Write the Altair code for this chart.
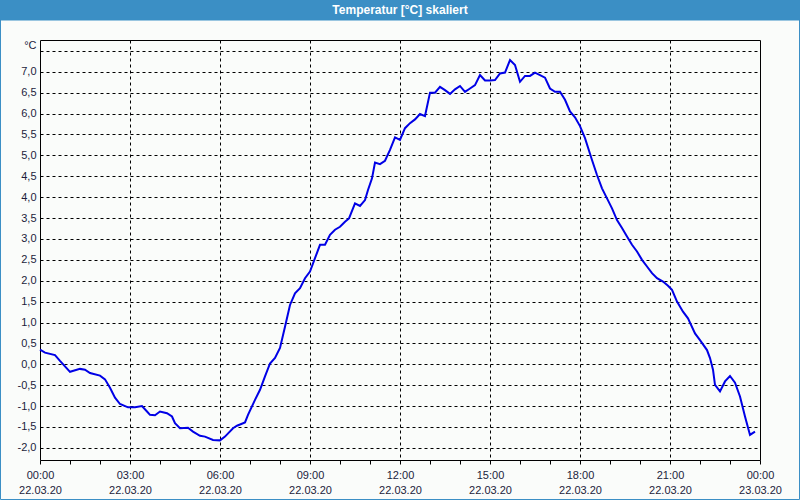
import altair as alt
import pandas as pd

# minutes since 22.03.20 00:00
minutes = [0, 10, 30, 40, 60, 80, 90, 100, 120, 130,
           140, 150, 160, 176, 190, 204, 214, 220, 230, 240,
           254, 264, 270, 280, 296, 306, 320, 330, 346, 360,
           370, 386, 394, 410, 416, 430, 440, 450, 460, 470,
           480, 490, 500, 510, 520, 530, 540, 550, 560, 570,
           580, 590, 600, 610, 618, 630, 640, 650, 656, 664,
           670, 680, 690, 700, 710, 720, 730, 740, 750, 760,
           770, 780, 790, 800, 810, 820, 830, 840, 850, 860,
           870, 880, 890, 900, 910, 920, 930, 940, 950, 960,
           970, 980, 990, 1000, 1010, 1020, 1030, 1040, 1050, 1060,
           1070, 1080, 1090, 1104, 1114, 1124, 1134, 1144, 1154, 1164,
           1174, 1184, 1194, 1204, 1214, 1224, 1234, 1246, 1256, 1264,
           1274, 1286, 1296, 1310, 1320, 1334, 1340, 1346, 1350, 1360,
           1370, 1380, 1390, 1400, 1410, 1420, 1430]
temps = [0.35, 0.28, 0.22, 0.08, -0.18, -0.11, -0.13, -0.21, -0.27, -0.36,
         -0.56, -0.80, -0.95, -1.03, -1.03, -1.00, -1.13, -1.21, -1.22, -1.13,
         -1.17, -1.25, -1.41, -1.53, -1.52, -1.61, -1.71, -1.73, -1.81, -1.82,
         -1.73, -1.53, -1.47, -1.39, -1.21, -0.85, -0.61, -0.29, 0.02, 0.15,
         0.39, 0.90, 1.42, 1.70, 1.82, 2.06, 2.22, 2.54, 2.86, 2.86,
         3.10, 3.22, 3.29, 3.41, 3.49, 3.85, 3.79, 3.93, 4.17, 4.45,
         4.83, 4.79, 4.87, 5.13, 5.43, 5.37, 5.65, 5.77, 5.86, 5.99,
         5.94, 6.50, 6.50, 6.64, 6.56, 6.47, 6.58, 6.66, 6.52, 6.60,
         6.68, 6.92, 6.79, 6.79, 6.80, 6.96, 6.98, 7.28, 7.16, 6.76,
         6.90, 6.90, 6.98, 6.92, 6.86, 6.60, 6.52, 6.52, 6.33, 6.05,
         5.91, 5.70, 5.41, 4.89, 4.53, 4.21, 3.97, 3.73, 3.45, 3.26,
         3.06, 2.86, 2.70, 2.50, 2.34, 2.18, 2.06, 1.98, 1.88, 1.78,
         1.50, 1.26, 1.10, 0.74, 0.58, 0.34, 0.15, -0.13, -0.49, -0.65,
         -0.41, -0.28, -0.44, -0.77, -1.25, -1.69, -1.61]

y_ticks = [-2.0, -1.5, -1.0, -0.5, 0.0, 0.5, 1.0, 1.5, 2.0, 2.5, 3.0, 3.5, 4.0,
           4.5, 5.0, 5.5, 6.0, 6.5, 7.0, 7.5]
x_ticks = list(range(0, 25))
title_text = "Temperatur [°C] skaliert"

df = pd.DataFrame({"h": [m / 60 for m in minutes], "t": temps})

FONT = "Liberation Sans"
LABEL_COLOR = "#1c1c3c"
BLUE = "#3b8fc5"

one = alt.Data(values=[{"title": title_text}])

title_bar = alt.Chart(one).mark_rect(color=BLUE).encode(
    x=alt.value(-40), x2=alt.value(760), y=alt.value(-40), y2=alt.value(-20)
)
title_label = alt.Chart(one).mark_text(
    color="white", font=FONT, fontSize=12, fontWeight="bold",
    align="center", baseline="middle"
).encode(
    x=alt.value(360), y=alt.value(-30), text="title:N"
)
border = alt.Chart(one).mark_rect(fillOpacity=0, stroke=BLUE, strokeWidth=1).encode(
    x=alt.value(-39.5), x2=alt.value(759.5), y=alt.value(-20), y2=alt.value(459.5)
)

x_label_expr = (
    "datum.value % 3 == 0 ? [(datum.value % 24 < 10 ? '0' : '') + (datum.value % 24) + ':00', "
    "datum.value < 24 ? '22.03.20' : '23.03.20'] : ''"
)
y_label_expr = (
    "datum.value == 7.5 ? '°C' : replace((datum.value < 0 ? '-' : '') + "
    "format(abs(datum.value), '.1f'), '.', ',')"
)

line = alt.Chart(df).mark_line(color="#0000e6", strokeWidth=2).encode(
    x=alt.X(
        "h:Q",
        scale=alt.Scale(domain=[0, 24], nice=False, zero=False),
        axis=alt.Axis(
            title=None,
            values=x_ticks,
            labelExpr=x_label_expr,
            grid=True,
            gridColor="black",
            gridDash=[3, 3],
            gridOpacity={"condition": {"test": "datum.value % 3 != 0 || datum.value == 0 || datum.value == 24", "value": 0}, "value": 1},
            tickSize=4,
            tickColor="black",
            domain=False,
            labelPadding=5,
            labelLineHeight=15,
            labelFont=FONT,
            labelFontSize=11,
            labelColor=LABEL_COLOR,
            labelFlush=False,
            labelOverlap=False,
        ),
    ),
    y=alt.Y(
        "t:Q",
        scale=alt.Scale(domain=[-2.29, 7.76], nice=False, zero=False),
        axis=alt.Axis(
            title=None,
            values=y_ticks,
            labelExpr=y_label_expr,
            grid=True,
            gridColor="black",
            gridDash=[3, 3],
            ticks=False,
            domain=False,
            labelPadding=4,
            labelFont=FONT,
            labelFontSize=11,
            labelColor=LABEL_COLOR,
            labelOffset={"condition": {"test": "datum.value == 7.5", "value": -5}, "value": 0},
            labelOverlap=False,
        ),
    ),
)

chart = alt.layer(title_bar, title_label, border, line).properties(
    width=720,
    height=420,
    padding={"left": 40, "top": 40, "right": 40, "bottom": 40},
    autosize=alt.AutoSizeParams(type="none"),
    background="#fafcfa",
).configure_view(stroke="black", strokeWidth=1, fill="#fafcfa")

chart.save("out.html", embed_options={"renderer": "svg", "actions": False})
